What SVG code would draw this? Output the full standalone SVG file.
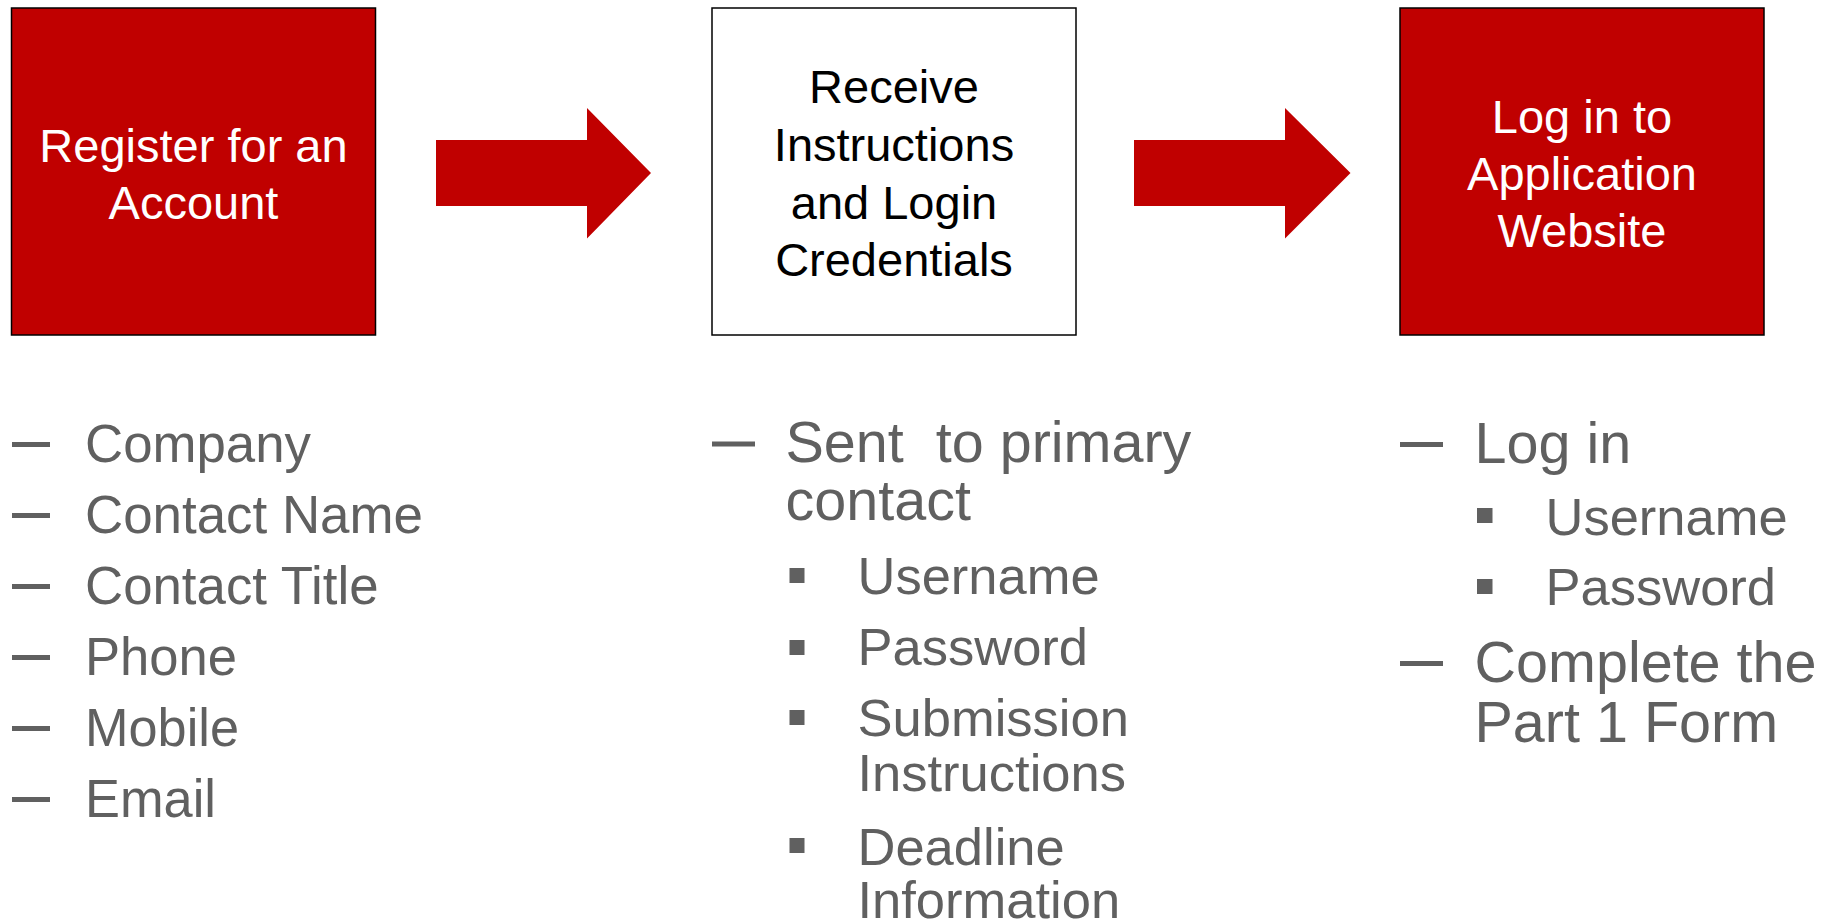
<svg xmlns="http://www.w3.org/2000/svg" width="1834" height="922" viewBox="0 0 1834 922">
<style>
.box{stroke:#000;stroke-width:1.5}
.red{fill:#C00000}
.white{fill:#FFFFFF}
.bt{font-family:"Liberation Sans",Arial,sans-serif;font-size:47px;text-anchor:middle}
.wt{fill:#FFFFFF}
.kt{fill:#000000}
.li{font-family:"Liberation Sans",Arial,sans-serif;font-size:57.5px;fill:#606060}
.l1{font-family:"Liberation Sans",Arial,sans-serif;font-size:54px;fill:#606060}
.sub{font-family:"Liberation Sans",Arial,sans-serif;font-size:52.5px;fill:#606060}
.dash{fill:#606060}
.sq{fill:#606060}
</style>
<rect width="1834" height="922" fill="#FFFFFF"/>
<g id="node-register">
  <rect class="box red" x="11.5" y="8" width="364" height="327"/>
  <text class="bt wt" x="193.5" y="162">Register for an</text>
  <text class="bt wt" x="193.5" y="219">Account</text>
</g>
<g id="node-receive">
  <rect class="box white" x="712" y="8" width="364" height="327"/>
  <text class="bt kt" x="894" y="103">Receive</text>
  <text class="bt kt" x="894" y="161">Instructions</text>
  <text class="bt kt" x="894" y="218.5">and Login</text>
  <text class="bt kt" x="894" y="276">Credentials</text>
</g>
<g id="node-login">
  <rect class="box red" x="1400" y="8" width="364" height="327"/>
  <text class="bt wt" x="1582" y="132.5">Log in to</text>
  <text class="bt wt" x="1582" y="189.5">Application</text>
  <text class="bt wt" x="1582" y="247">Website</text>
</g>
<g id="connectors">
  <polygon class="red" points="436,140 587,140 587,108 651,173 587,238.5 587,206 436,206"/>
  <polygon class="red" points="1134,140 1285,140 1285,108 1350.5,173 1285,238.5 1285,206 1134,206"/>
</g>
<g id="list-register">
  <rect class="dash" x="12" y="442" width="38" height="5"/>
  <text class="l1" x="85" y="461.7" textLength="226" lengthAdjust="spacingAndGlyphs">Company</text>
  <rect class="dash" x="12" y="513" width="38" height="5"/>
  <text class="l1" x="85" y="532.7" textLength="338" lengthAdjust="spacingAndGlyphs">Contact Name</text>
  <rect class="dash" x="12" y="584" width="38" height="5"/>
  <text class="l1" x="85" y="603.5" textLength="293.5" lengthAdjust="spacingAndGlyphs">Contact Title</text>
  <rect class="dash" x="12" y="655" width="38" height="5"/>
  <text class="l1" x="85" y="674.5" textLength="152" lengthAdjust="spacingAndGlyphs">Phone</text>
  <rect class="dash" x="12" y="726" width="38" height="5"/>
  <text class="l1" x="85" y="745.5" textLength="154" lengthAdjust="spacingAndGlyphs">Mobile</text>
  <rect class="dash" x="12" y="797" width="38" height="5"/>
  <text class="l1" x="85" y="816.7" textLength="131" lengthAdjust="spacingAndGlyphs">Email</text>
</g>
<g id="list-receive">
  <rect class="dash" x="712" y="441.5" width="43" height="5"/>
  <text class="li" x="785.5" y="461.7" xml:space="preserve">Sent  to primary</text>
  <text class="li" x="785.5" y="520">contact</text>
  <rect class="sq" x="789.5" y="568" width="15" height="15"/>
  <text class="sub" x="857.5" y="594">Username</text>
  <rect class="sq" x="789.5" y="640" width="15" height="15"/>
  <text class="sub" x="857.5" y="665">Password</text>
  <rect class="sq" x="789.5" y="710" width="15" height="15"/>
  <text class="sub" x="857.5" y="735.5">Submission</text>
  <text class="sub" x="857.5" y="791">Instructions</text>
  <rect class="sq" x="789.5" y="838" width="15" height="15"/>
  <text class="sub" x="857.5" y="865">Deadline</text>
  <text class="sub" x="857.5" y="917.5">Information</text>
</g>
<g id="list-login">
  <rect class="dash" x="1400" y="442" width="43" height="5"/>
  <text class="li" x="1474.5" y="462.7">Log in</text>
  <rect class="sq" x="1477" y="508" width="15.5" height="15"/>
  <text class="sub" x="1545.5" y="535">Username</text>
  <rect class="sq" x="1477" y="579" width="15.5" height="15"/>
  <text class="sub" x="1545.5" y="605">Password</text>
  <rect class="dash" x="1400" y="661" width="43" height="5"/>
  <text class="li" x="1474.5" y="681.7">Complete the</text>
  <text class="li" x="1474.5" y="741.7">Part 1 Form</text>
</g>
</svg>
